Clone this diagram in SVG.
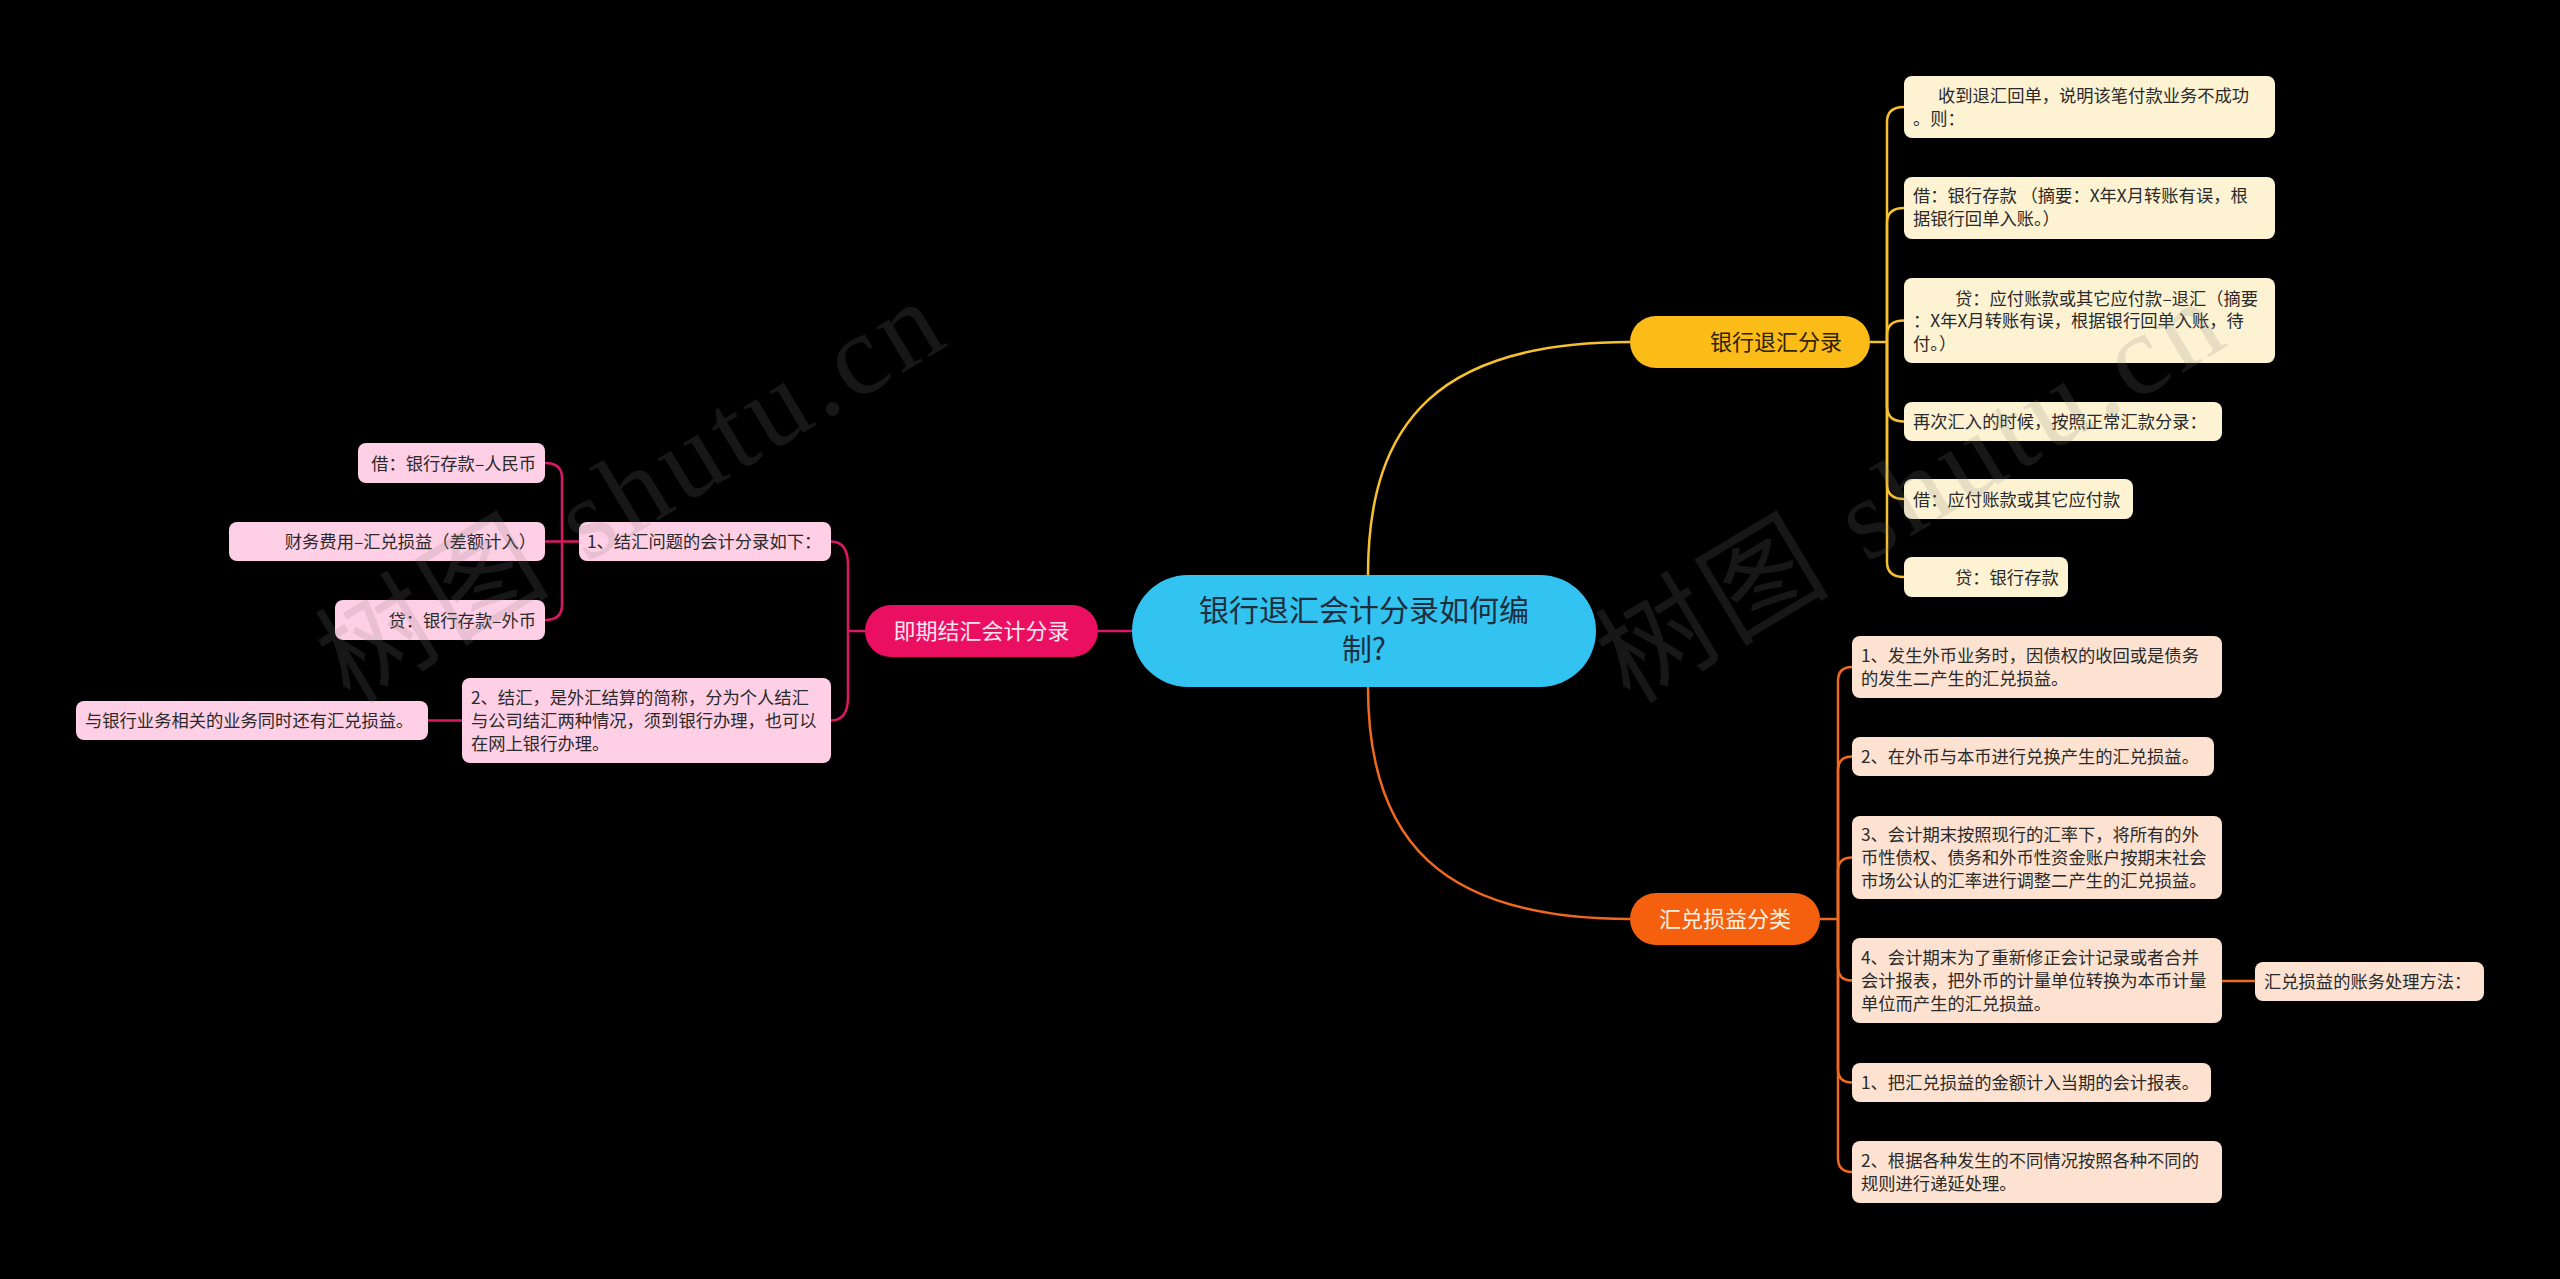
<svg xmlns="http://www.w3.org/2000/svg" width="2560" height="1279" viewBox="0 0 2560 1279">
<style>
text{font-family:"Noto Sans CJK SC","Noto Sans",sans-serif;}
.c{font-size:17.3px;fill:#2a2a2a;}
.e{text-anchor:end;}
.m{text-anchor:middle;}
.yb{fill:#fdf2d2;}
.ob{fill:#fde2d1;}
.pb{fill:#ffcfe5;}
.yl{fill:none;stroke:#f6c12c;stroke-width:2.5;}
.ol{fill:none;stroke:#ef6a1e;stroke-width:2.5;}
.pl{fill:none;stroke:#dc1765;stroke-width:2.5;}
.wm{font-family:"Liberation Serif","Noto Sans CJK SC",serif;font-size:115px;fill:#808080;fill-opacity:0.18;}
</style>
<rect width="2560" height="1279" fill="#000"/>
<g id="connectors">
<path class="yl" d="M1368,575 C1368,420 1440,342 1630,342" stroke-width="3"/>
<path class="ol" d="M1368,687 C1368,840 1440,919 1630,919" stroke-width="3"/>
<path class="pl" d="M1098,631 H1132" stroke-width="3"/>
<path class="yl" d="M1870,342 H1887"/>
<path class="yl" d="M1887,342 V122 Q1887,107 1904,107"/>
<path class="yl" d="M1887,342 V223 Q1887,208 1904,208"/>
<path class="yl" d="M1887,342 V335 Q1887,320.5 1904,320.5"/>
<path class="yl" d="M1887,342 V406 Q1887,421.5 1904,421.5"/>
<path class="yl" d="M1887,342 V484 Q1887,499 1904,499"/>
<path class="yl" d="M1887,342 V562 Q1887,577 1904,577"/>
<path class="ol" d="M1820,919 H1838"/>
<path class="ol" d="M1838,919 V681 Q1838,667 1852,667"/>
<path class="ol" d="M1838,919 V770 Q1838,756.5 1852,756.5"/>
<path class="ol" d="M1838,919 V871 Q1838,857.5 1852,857.5"/>
<path class="ol" d="M1838,919 V967 Q1838,980.5 1852,980.5"/>
<path class="ol" d="M1838,919 V1069 Q1838,1082.5 1852,1082.5"/>
<path class="ol" d="M1838,919 V1158 Q1838,1172 1852,1172"/>
<path class="ol" d="M2222,981 H2255"/>
<path class="pl" d="M865,631 H848"/>
<path class="pl" d="M848,631 V565 Q848,541.5 831,541.5"/>
<path class="pl" d="M848,631 V697 Q848,720.5 831,720.5"/>
<path class="pl" d="M579,541.5 H545"/>
<path class="pl" d="M562,541.5 V478 Q562,463 545,463"/>
<path class="pl" d="M562,541.5 V605 Q562,620 545,620"/>
<path class="pl" d="M462,720.5 H428"/>
</g>
<g id="root">
<rect x="1132" y="575" width="464" height="112" rx="56" fill="#33c3f1"/>
<text x="1364" y="621" class="m" font-size="30" fill="#1d2f3f">银行退汇会计分录如何编</text>
<text x="1364" y="660" class="m" font-size="30" fill="#1d2f3f">制?</text>
</g>
<g id="b-yellow">
<rect x="1630" y="316" width="240" height="52" rx="26" fill="#fbbc18"/>
<text x="1710" y="350" font-size="22" fill="#2d2300">银行退汇分录</text>
</g>
<g id="b-orange">
<rect x="1630" y="893" width="190" height="52" rx="26" fill="#f4600e"/>
<text x="1725" y="927" class="m" font-size="22" fill="#fff0e0">汇兑损益分类</text>
</g>
<g id="b-pink">
<rect x="865" y="605" width="233" height="52" rx="26" fill="#ea0f61"/>
<text x="981.5" y="639" class="m" font-size="22" fill="#ffe3ef">即期结汇会计分录</text>
</g>
<g id="y1"><rect class="yb" x="1904" y="76" width="371" height="62" rx="8"/>
<text class="c" x="1938" y="102">收到退汇回单，说明该笔付款业务不成功</text><text class="c" x="1913" y="125">。则：</text></g>
<g id="y2"><rect class="yb" x="1904" y="177" width="371" height="62" rx="8"/>
<text class="c" x="1913" y="202">借：银行存款 （摘要：X年X月转账有误，根</text><text class="c" x="1913" y="225">据银行回单入账。）</text></g>
<g id="y3"><rect class="yb" x="1904" y="278" width="371" height="85" rx="8"/>
<text class="c" x="1955" y="304.5">贷：应付账款或其它应付款–退汇（摘要</text><text class="c" x="1913" y="327">：X年X月转账有误，根据银行回单入账，待</text><text class="c" x="1913" y="349.5">付。）</text></g>
<g id="y4"><rect class="yb" x="1904" y="402" width="318" height="39" rx="8"/>
<text class="c" x="1913" y="428">再次汇入的时候，按照正常汇款分录：</text></g>
<g id="y5"><rect class="yb" x="1904" y="479" width="229" height="40" rx="8"/>
<text class="c" x="1913" y="505.5">借：应付账款或其它应付款</text></g>
<g id="y6"><rect class="yb" x="1904" y="557" width="164" height="40" rx="8"/>
<text class="c" x="1955" y="583.5">贷：银行存款</text></g>
<g id="o1"><rect class="ob" x="1852" y="636" width="370" height="62" rx="8"/>
<text class="c" x="1861" y="662">1、发生外币业务时，因债权的收回或是债务</text><text class="c" x="1861" y="685">的发生二产生的汇兑损益。</text></g>
<g id="o2"><rect class="ob" x="1852" y="737" width="362" height="39" rx="8"/>
<text class="c" x="1861" y="763">2、在外币与本币进行兑换产生的汇兑损益。</text></g>
<g id="o3"><rect class="ob" x="1852" y="816" width="370" height="83" rx="8"/>
<text class="c" x="1861" y="841">3、会计期末按照现行的汇率下，将所有的外</text><text class="c" x="1861" y="864">币性债权、债务和外币性资金账户按期末社会</text><text class="c" x="1861" y="887">市场公认的汇率进行调整二产生的汇兑损益。</text></g>
<g id="o4"><rect class="ob" x="1852" y="938" width="370" height="85" rx="8"/>
<text class="c" x="1861" y="964">4、会计期末为了重新修正会计记录或者合并</text><text class="c" x="1861" y="987">会计报表，把外币的计量单位转换为本币计量</text><text class="c" x="1861" y="1010">单位而产生的汇兑损益。</text></g>
<g id="o5"><rect class="ob" x="1852" y="1063" width="359" height="39" rx="8"/>
<text class="c" x="1861" y="1089">1、把汇兑损益的金额计入当期的会计报表。</text></g>
<g id="o6"><rect class="ob" x="1852" y="1141" width="370" height="62" rx="8"/>
<text class="c" x="1861" y="1167">2、根据各种发生的不同情况按照各种不同的</text><text class="c" x="1861" y="1190">规则进行递延处理。</text></g>
<g id="o7"><rect class="ob" x="2255" y="962" width="229" height="39" rx="8"/>
<text class="c" x="2264" y="988">汇兑损益的账务处理方法：</text></g>
<g id="p1"><rect class="pb" x="579" y="522" width="252" height="39" rx="8"/>
<text class="c" x="587" y="548">1、结汇问题的会计分录如下：</text></g>
<g id="p2"><rect class="pb" x="358" y="443" width="187" height="40" rx="8"/>
<text class="c e" x="536" y="469.5">借：银行存款–人民币</text></g>
<g id="p3"><rect class="pb" x="229" y="522" width="316" height="39" rx="8"/>
<text class="c e" x="536" y="548">财务费用–汇兑损益（差额计入）</text></g>
<g id="p4"><rect class="pb" x="335" y="600" width="210" height="40" rx="8"/>
<text class="c e" x="536" y="626.5">贷：银行存款–外币</text></g>
<g id="p5"><rect class="pb" x="462" y="678" width="369" height="85" rx="8"/>
<text class="c" x="471" y="704">2、结汇，是外汇结算的简称，分为个人结汇</text><text class="c" x="471" y="727">与公司结汇两种情况，须到银行办理，也可以</text><text class="c" x="471" y="750">在网上银行办理。</text></g>
<g id="p6"><rect class="pb" x="76" y="701" width="352" height="39" rx="8"/>
<text class="c" x="85" y="727">与银行业务相关的业务同时还有汇兑损益。</text></g>
<g id="watermark">
<text class="wm" transform="translate(350,705) rotate(-31)" textLength="700" lengthAdjust="spacing">树图 shutu.cn</text>
<text class="wm" transform="translate(1630,705) rotate(-31)" textLength="700" lengthAdjust="spacing">树图 shutu.cn</text>
</g>
</svg>
